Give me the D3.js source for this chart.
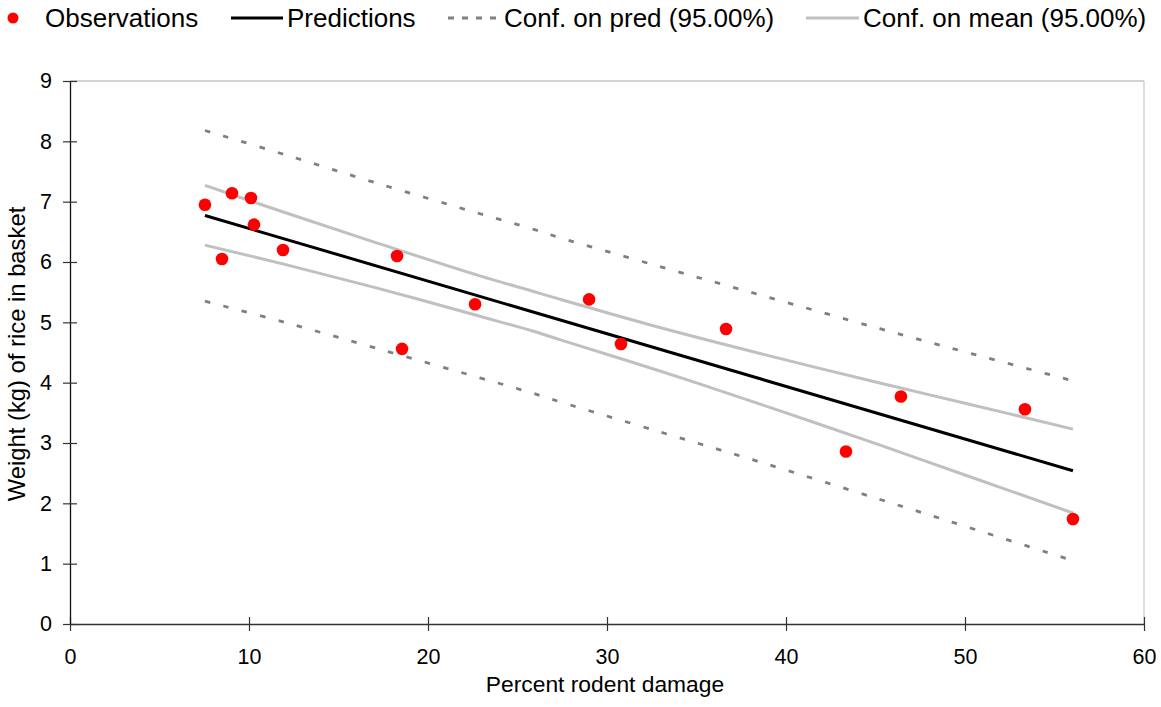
<!DOCTYPE html>
<html><head><meta charset="utf-8">
<script src="https://cdn.jsdelivr.net/npm/d3@7"></script>
<style>body{margin:0;background:#fff}svg{display:block}text{font-family:"Liberation Sans",Arial,sans-serif;fill:#000}</style>
</head><body><svg id="c" width="1161" height="707"></svg>
<script>
// Observations
const obsX = [7.54, 8.49, 9.05, 10.11, 10.28, 11.9, 18.27, 18.55, 22.63, 29.0, 30.78, 36.65, 43.35, 46.42, 53.35, 56.03];
const obsY = [6.95, 6.05, 7.14, 7.06, 6.62, 6.20, 6.10, 4.56, 5.30, 5.38, 4.64, 4.89, 2.86, 3.77, 3.56, 1.74];
// Prediction line (end points)
const predX = [7.54, 56.03];
const predY = [6.77, 2.54];
// Confidence bands read at these x positions
const bandX = [7.54, 12, 17, 22.9, 25.8, 27.4, 33.0, 38.6, 45.3, 50, 56.03];
const meanUpper = [7.27, 6.82, 6.33, 5.77, 5.52, 5.38, 4.91, 4.48, 3.99, 3.66, 3.23];
const meanLower = [6.28, 5.96, 5.58, 5.10, 4.86, 4.71, 4.19, 3.64, 2.96, 2.47, 1.84];
const predUpper = [8.18, 7.78, 7.32, 6.80, 6.55, 6.40, 5.92, 5.45, 4.89, 4.51, 4.03];
const predLower = [5.35, 5.00, 4.58, 4.08, 3.83, 3.68, 3.18, 2.68, 2.06, 1.62, 1.05];
const xTicks = [0, 10, 20, 30, 40, 50, 60];
const yTicks = [0, 1, 2, 3, 4, 5, 6, 7, 8, 9];
const legendLabels = ["Observations", "Predictions", "Conf. on pred (95.00%)", "Conf. on mean (95.00%)"];
const xTitle = "Percent rodent damage";
const yTitle = "Weight (kg) of rice in basket";

const svg = d3.select("#c");
const x = d3.scaleLinear().domain([0, 60]).range([70, 1144]);
const y = d3.scaleLinear().domain([0, 9]).range([624, 81]);

// frame (top & right)
svg.append("line").attr("x1", x(0)).attr("x2", x(60)).attr("y1", y(9)).attr("y2", y(9)).attr("stroke", "#a6a6a6").attr("stroke-width", 1.2);
svg.append("line").attr("x1", x(60)).attr("x2", x(60)).attr("y1", y(9)).attr("y2", y(0)).attr("stroke", "#c8c8c8").attr("stroke-width", 1.2);

// axes
const xAxis = d3.axisBottom(x).tickValues(xTicks).tickSizeInner(7).tickSizeOuter(0).tickPadding(18);
const gx = svg.append("g").attr("transform", `translate(0,${y(0)})`).call(xAxis);
gx.select(".domain").attr("stroke", "#333").attr("stroke-width", 1.3);
gx.selectAll(".tick line").attr("y1", -7).attr("stroke", "#333").attr("stroke-width", 1.2);
gx.selectAll(".tick text").attr("font-size", 21.5).attr("font-family", "Liberation Sans, Arial, sans-serif").attr("fill", "#000");

const yAxis = d3.axisLeft(y).tickValues(yTicks).tickSizeInner(7).tickSizeOuter(0).tickPadding(11);
const gy = svg.append("g").attr("transform", `translate(${x(0)},0)`).call(yAxis);
gy.select(".domain").attr("stroke", "#111").attr("stroke-width", 1.3);
gy.selectAll(".tick line").attr("x2", 7).attr("x1", -7).attr("stroke", "#333").attr("stroke-width", 1.2);
gy.selectAll(".tick text").attr("font-size", 21.5).attr("font-family", "Liberation Sans, Arial, sans-serif").attr("fill", "#000");

// titles
svg.append("text").attr("x", 605).attr("y", 692).attr("text-anchor", "middle").attr("font-size", 22.8).text(xTitle);
svg.append("text").attr("transform", `translate(25,354) rotate(-90)`).attr("text-anchor", "middle").attr("font-size", 23.8).text(yTitle);

// lines
const band = (arr) => d3.line().curve(d3.curveCatmullRom).x((d, i) => x(bandX[i])).y(d => y(d))(arr);
[predUpper, predLower].forEach(a => svg.append("path").attr("d", band(a)).attr("fill", "none").attr("stroke", "#808080").attr("stroke-width", 2.8).attr("stroke-dasharray", "5.5,13.5"));
[meanUpper, meanLower].forEach(a => svg.append("path").attr("d", band(a)).attr("fill", "none").attr("stroke", "#c0c0c0").attr("stroke-width", 3));
svg.append("path").attr("d", d3.line().x((d, i) => x(predX[i])).y(d => y(d))(predY)).attr("fill", "none").attr("stroke", "#000").attr("stroke-width", 3);

// points
svg.append("g").selectAll("circle").data(obsX).join("circle")
  .attr("cx", d => x(d)).attr("cy", (d, i) => y(obsY[i])).attr("r", 6.3).attr("fill", "#ff0000");

// legend
const lg = svg.append("g");
const ly = 18, fs = 26, tb = ly + 9.3;
lg.append("circle").attr("cx", 13).attr("cy", ly).attr("r", 5.5).attr("fill", "#ff0000");
lg.append("text").attr("x", 45).attr("y", tb).attr("font-size", fs).text(legendLabels[0]);
lg.append("line").attr("x1", 231).attr("x2", 283).attr("y1", ly).attr("y2", ly).attr("stroke", "#000").attr("stroke-width", 3);
lg.append("text").attr("x", 287).attr("y", tb).attr("font-size", fs).text(legendLabels[1]);
lg.append("line").attr("x1", 448).attr("x2", 498).attr("y1", ly).attr("y2", ly).attr("stroke", "#808080").attr("stroke-width", 3).attr("stroke-dasharray", "6,8");
lg.append("text").attr("x", 504).attr("y", tb).attr("font-size", fs).text(legendLabels[2]);
lg.append("line").attr("x1", 806).attr("x2", 859).attr("y1", ly).attr("y2", ly).attr("stroke", "#c0c0c0").attr("stroke-width", 3);
lg.append("text").attr("x", 863).attr("y", tb).attr("font-size", fs).text(legendLabels[3]);
</script></body></html>
